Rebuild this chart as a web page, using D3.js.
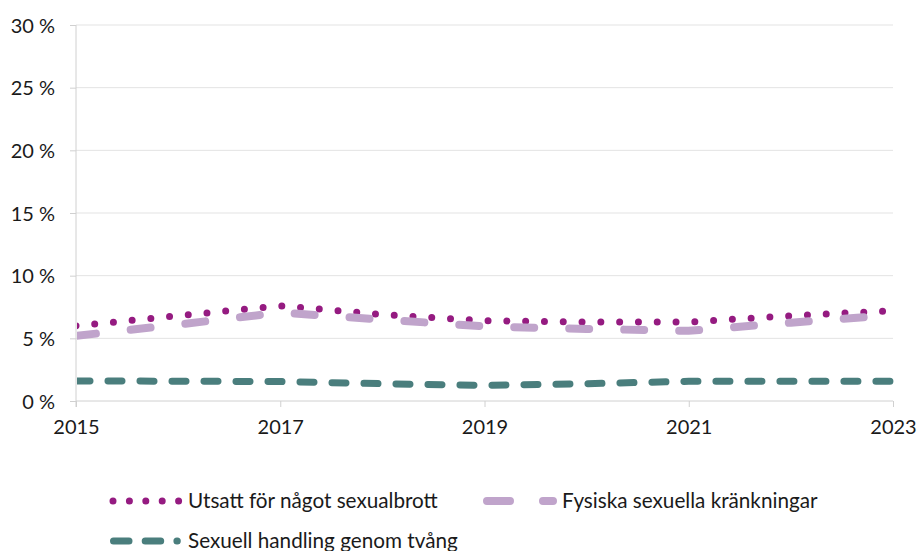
<!DOCTYPE html>
<html>
<head>
<meta charset="utf-8">
<script src="https://cdn.jsdelivr.net/npm/d3@7"></script>
<style>
  body { margin: 0; background: #fff; }
  svg text { font-family: Lato, "Open Sans", sans-serif; fill: #1a1a1a; }
</style>
</head>
<body>
<svg id="chart" width="917" height="551"></svg>
<script>
// data (percent)
var years = [2015, 2016, 2017, 2018, 2019, 2020, 2021, 2022, 2023]
var utsatt = [6.0, 6.8, 7.6, 6.9, 6.4, 6.3, 6.3, 6.8, 7.2]
var fysiska = [5.2, 6.1, 7.05, 6.5, 5.95, 5.75, 5.6, 6.25, 6.85]
var tvang = [1.6, 1.58, 1.55, 1.38, 1.25, 1.38, 1.57, 1.57, 1.57]
var yTicks = [0, 5, 10, 15, 20, 25, 30]
var xTicks = [2015, 2017, 2019, 2021, 2023]

var series = [
    { name: 'Utsatt för något sexualbrott', values: utsatt, color: '#951b81', width: 7, dash: '0,18.8', legDash: '0,16.4' },
    { name: 'Fysiska sexuella kränkningar', values: fysiska, color: '#c0a4cb', width: 8, dash: '20,35', legDash: '23,33' },
    { name: 'Sexuell handling genom tvång', values: tvang, color: '#4a7e7d', width: 7, dash: '14,18', legDash: '15.5,16.2' }
]

var pLeft = 76, pRight = 893, pTop = 25, pBottom = 401

var svg = d3.select('#chart')

var x = d3.scaleLinear().domain([2015, 2023]).range([pLeft, pRight])
var y = d3.scaleLinear().domain([0, 30]).range([pBottom, pTop])

// gridlines
svg.append('g')
    .selectAll('line')
    .data(yTicks.slice(1))
    .enter()
    .append('line')
        .attr('x1', pLeft)
        .attr('x2', pRight)
        .attr('y1', function(d) { return y(d) })
        .attr('y2', function(d) { return y(d) })
        .attr('stroke', '#e3e3e3')
        .attr('stroke-width', 1)

// y axis
var yAxis = svg.append('g')
    .attr('transform', 'translate(' + pLeft + ',0)')
    .call(d3.axisLeft(y).tickValues(yTicks).tickSize(6).tickPadding(15)
        .tickFormat(function(d) { return d + '\u00a0%' }))
yAxis.select('.domain').attr('stroke', '#d0d0d0').attr('d', 'M0,' + pTop + 'V' + (pBottom + 6))
yAxis.selectAll('.tick line').attr('stroke', '#d0d0d0')
yAxis.selectAll('.tick text').attr('font-size', 20).attr('dy', '0.35em')

// x axis
var xAxis = svg.append('g')
    .attr('transform', 'translate(0,' + pBottom + ')')
    .call(d3.axisBottom(x).tickValues(xTicks).tickSize(6).tickPadding(13)
        .tickFormat(d3.format('d')))
xAxis.select('.domain').attr('stroke', '#d0d0d0').attr('d', 'M' + pLeft + ',0H' + pRight)
xAxis.selectAll('.tick line').attr('stroke', '#d0d0d0')
xAxis.selectAll('.tick text').attr('font-size', 20)

// clip the lines to the plot area
svg.append('clipPath')
    .attr('id', 'plot')
    .append('rect')
        .attr('x', pLeft + 1)
        .attr('y', 0)
        .attr('width', pRight - pLeft + 10)
        .attr('height', pBottom)

var line = d3.line()
    .x(function(d, i) { return x(years[i]) })
    .y(function(d) { return y(d) })

svg.append('g')
    .attr('clip-path', 'url(#plot)')
    .selectAll('path')
    .data(series)
    .enter()
    .append('path')
        .attr('d', function(s) { return line(s.values) })
        .attr('fill', 'none')
        .attr('stroke', function(s) { return s.color })
        .attr('stroke-width', function(s) { return s.width })
        .attr('stroke-dasharray', function(s) { return s.dash })
        .attr('stroke-linecap', 'round')

// legend
var legendPos = [
    { x1: 113, x2: 179, tx: 188, ty: 501 },
    { x1: 487, x2: 553, tx: 562, ty: 501 },
    { x1: 113.5, x2: 177.3, tx: 188, ty: 541 }
]

var legend = svg.append('g')
    .selectAll('g')
    .data(series)
    .enter()
    .append('g')

legend.append('line')
    .attr('x1', function(s, i) { return legendPos[i].x1 })
    .attr('x2', function(s, i) { return legendPos[i].x2 })
    .attr('y1', function(s, i) { return legendPos[i].ty })
    .attr('y2', function(s, i) { return legendPos[i].ty })
    .attr('stroke', function(s) { return s.color })
    .attr('stroke-width', function(s) { return s.width })
    .attr('stroke-dasharray', function(s) { return s.legDash })
    .attr('stroke-linecap', 'round')

legend.append('text')
    .attr('x', function(s, i) { return legendPos[i].tx })
    .attr('y', function(s, i) { return legendPos[i].ty })
    .attr('dy', '0.35em')
    .attr('font-size', 20.7)
    .text(function(s) { return s.name })
</script>
</body>
</html>
